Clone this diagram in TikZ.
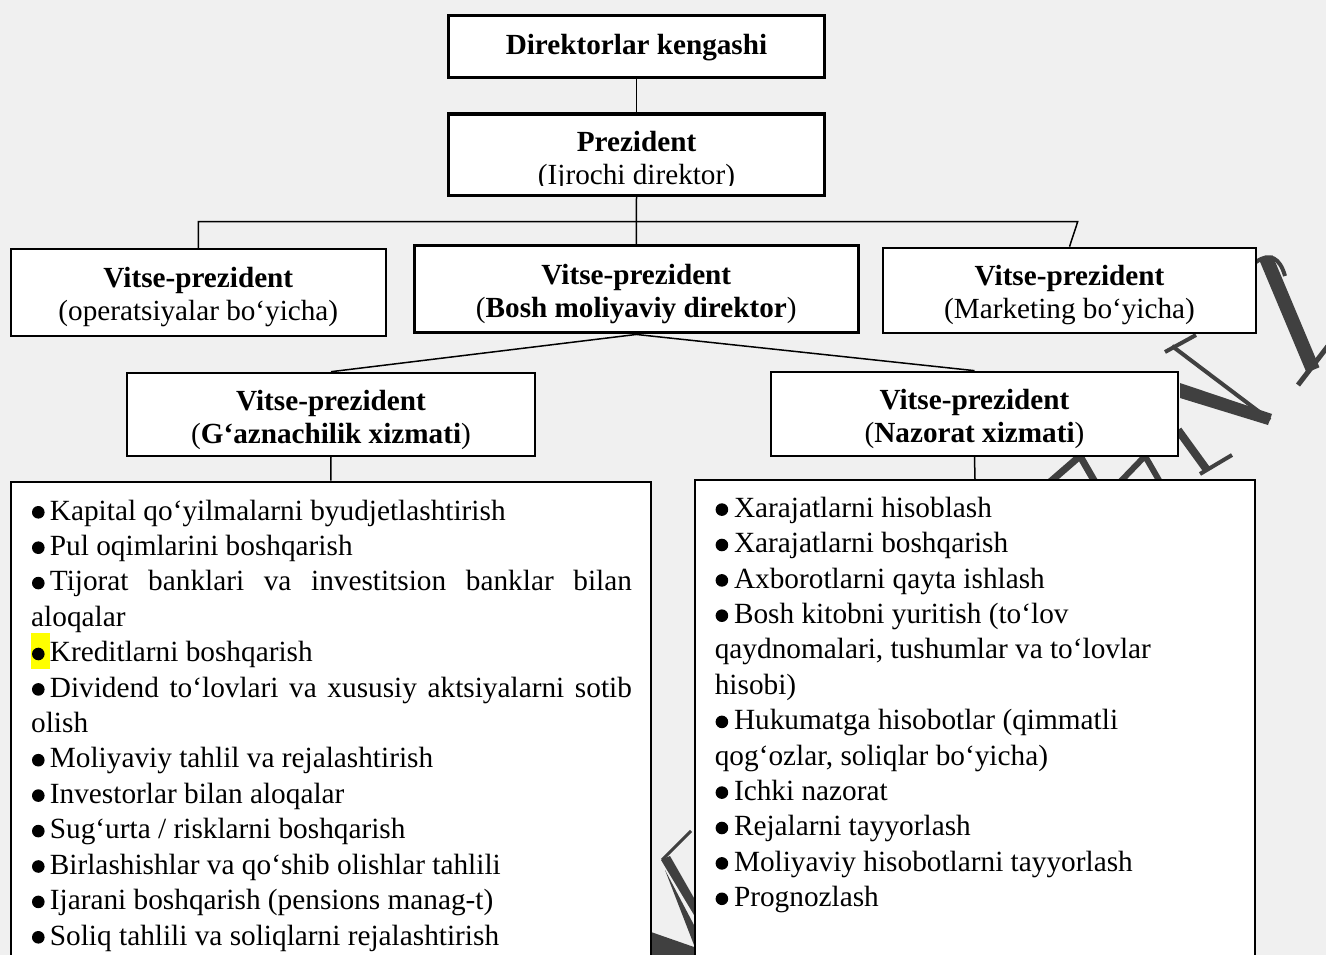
\documentclass[tikz,border=0pt]{standalone}
\usepackage{fontspec}
\setmainfont{Liberation Serif}
\definecolor{paper}{HTML}{F0F0F0}
\definecolor{wmark}{HTML}{404040}
\definecolor{hilite}{HTML}{FFFF00}
\begin{document}
\begin{tikzpicture}[x=1pt,y=-1pt,
  box/.style={draw=black, fill=white, line width=2pt, inner sep=0pt},
  heavybox/.style={box, line width=3.2pt},
  link/.style={draw=black, line width=1.5pt},
  head/.style={font=\fontsize{29.2}{33}\selectfont\bfseries, anchor=base, inner sep=0pt},
  sub/.style={font=\fontsize{29.2}{33}\selectfont, anchor=base, inner sep=0pt},
  item/.style={font=\fontsize{29.3}{35}\selectfont, anchor=base west, inner sep=0pt},
  dot/.style={fill=black},
  wm/.style={fill=wmark},
  wml/.style={draw=wmark}
]
\useasboundingbox (0,0) rectangle (1326,955);
\fill[paper] (0,0) rectangle (1326,955);

% watermark strokes lying behind the boxes
\draw[wml, line width=14pt] (1266,258) -- (1313,370);
\draw[wml, line width=4pt] (1256,262) .. controls (1270,252) and (1280,258) .. (1285,276);
\draw[wml, line width=5pt] (1298,385) -- (1328,346);
\fill[wm] (1180,383) -- (1272,414) -- (1268,425) -- (1180,398) -- cycle;
\draw[wml, line width=4pt] (1172,346) -- (1270,420);
\draw[wml, line width=4pt] (1165,352) -- (1196,335);
\draw[wml, line width=8pt] (1178,430) -- (1207,470);
\draw[wml, line width=4pt] (1200,474) -- (1232,455);
\draw[wml, line width=7pt] (1050,482) -- (1080,456) -- (1095,482);
\draw[wml, line width=6pt] (1120,482) -- (1145,456) -- (1160,482);
\fill[wm] (661,860) -- (670,856) -- (694,898) -- (694,915) -- cycle;
\fill[wm] (665,870) -- (694,925) -- (694,945) -- cycle;
\draw[wml, line width=3pt] (662,860) -- (691,831);
\fill[wm] (651,932) -- (694,947) -- (694,956) -- (651,956) -- cycle;

% boxes
\node[heavybox, minimum width=375.8pt, minimum height=61.8pt] (board) at (636.5,46.5) {};
\node[heavybox, minimum width=375.8pt, minimum height=81.5pt] (pres) at (636.5,154.7) {};
\node[box, minimum width=374.7pt, minimum height=86.4pt] (ops) at (198.3,292.5) {};
\node[heavybox, minimum width=444.1pt, minimum height=87.3pt] (cfo) at (636.3,289.2) {};
\node[box, minimum width=373.6pt, minimum height=85.3pt] (mkt) at (1069.5,290.3) {};
\node[box, minimum width=408.5pt, minimum height=83pt] (tre) at (331,414.2) {};
\node[box, minimum width=407pt, minimum height=84.3pt] (ctl) at (974.5,413.8) {};
\node[box, minimum width=640.5pt, minimum height=508.3pt] (tlist) at (330.75,735.85) {};
\node[box, minimum width=560pt, minimum height=510pt] (clist) at (975,735) {};

% connectors
\coordinate (busR) at (1077.7,221.7);
\draw[link] (board.south) -- (pres.north);
\draw[link] (pres.south) -- (cfo.north);
\draw[link] (ops.north) |- (busR) -- (mkt.north);
\draw[link] (tre.north) -- (cfo.south) -- (ctl.north);
\draw[link] (tre.south) -- (tlist.north);
\draw[link] (ctl.south) -- (clist.north);

% headings
\node[head] (boardT) at (636.5,54.3) {Direktorlar kengashi};
\node[head] (presT) at (636.5,151.7) {Prezident};
\begin{scope}
  \clip (449,114) rectangle (824,186);
  \node[sub] (presS) at (636.5,184.5) {(Ijrochi direktor)};
\end{scope}
\node[head] (opsT) at (198.3,287.2) {Vitse-prezident};
\node[sub]  (opsS) at (198.3,320.3) {(operatsiyalar bo‘yicha)};
\node[head] (cfoT) at (636.3,284) {Vitse-prezident};
\node[sub]  (cfoS) at (636.3,317.3) {(\textbf{Bosh moliyaviy direktor})};
\node[head] (mktT) at (1069.5,285) {Vitse-prezident};
\node[sub]  (mktS) at (1069.5,318.5) {(Marketing bo‘yicha)};
\node[head] (treT) at (331,410) {Vitse-prezident};
\node[sub]  (treS) at (331,443.5) {(\textbf{G‘aznachilik xizmati})};
\node[head] (ctlT) at (974.5,409) {Vitse-prezident};
\node[sub]  (ctlS) at (974.5,442.5) {(\textbf{Nazorat xizmati})};

% treasury duties
\fill[hilite] (31,633.3) rectangle (50,669);
\foreach \y in {520,555.4,590.8,661.7,697.1,767.9,803.3,838.8,874.2,909.6,945}
  \fill[dot] (38.3,\y-7.7) circle (6.3pt);
\node[item] (l1) at (49.7,520) {Kapital qo‘yilmalarni byudjetlashtirish};
\node[item] (l2) at (49.7,555.4) {Pul oqimlarini boshqarish};
\node[item] (l3) at (49.7,590.8) {\makebox[582pt][s]{Tijorat banklari va investitsion banklar bilan}};
\node[item] (l4) at (31,626.3) {aloqalar};
\node[item] (l5) at (49.7,661.7) {Kreditlarni boshqarish};
\node[item] (l6) at (49.7,697.1) {\makebox[582pt][s]{Dividend to‘lovlari va xususiy aktsiyalarni sotib}};
\node[item] (l7) at (31,732.5) {olish};
\node[item] (l8) at (49.7,767.9) {Moliyaviy tahlil va rejalashtirish};
\node[item] (l9) at (49.7,803.3) {Investorlar bilan aloqalar};
\node[item] (l10) at (49.7,838.8) {Sug‘urta / risklarni boshqarish};
\node[item] (l11) at (49.7,874.2) {Birlashishlar va qo‘shib olishlar tahlili};
\node[item] (l12) at (49.7,909.6) {Ijarani boshqarish (pensions manag-t)};
\node[item] (l13) at (49.7,945) {Soliq tahlili va soliqlarni rejalashtirish};

% control duties
\foreach \y in {517.3,552.7,588.1,623.4,729.6,800.3,835.7,871.1,906.5}
  \fill[dot] (721.9,\y-7.7) circle (6.3pt);
\node[item] (r1) at (733.8,517.3) {Xarajatlarni hisoblash};
\node[item] (r2) at (733.8,552.7) {Xarajatlarni boshqarish};
\node[item] (r3) at (733.8,588.1) {Axborotlarni qayta ishlash};
\node[item] (r4) at (733.8,623.4) {Bosh kitobni yuritish (to‘lov};
\node[item] (r5) at (714.6,658.8) {qaydnomalari, tushumlar va to‘lovlar};
\node[item] (r6) at (714.6,694.2) {hisobi)};
\node[item] (r7) at (733.8,729.6) {Hukumatga hisobotlar (qimmatli};
\node[item] (r8) at (714.6,765) {qog‘ozlar, soliqlar bo‘yicha)};
\node[item] (r9) at (733.8,800.3) {Ichki nazorat};
\node[item] (r10) at (733.8,835.7) {Rejalarni tayyorlash};
\node[item] (r11) at (733.8,871.1) {Moliyaviy hisobotlarni tayyorlash};
\node[item] (r12) at (733.8,906.5) {Prognozlash};
\end{tikzpicture}
\end{document}
